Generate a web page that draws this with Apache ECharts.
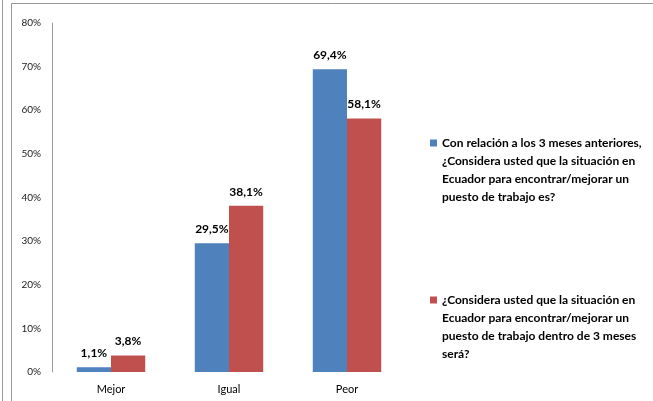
<!DOCTYPE html>
<html><head><meta charset="utf-8">
<script src="https://cdn.jsdelivr.net/npm/echarts@6/dist/echarts.min.js"></script>
<style>html,body{margin:0;padding:0;background:#fff}#c{width:653px;height:401px}</style>
</head><body><div id="c"></div>
<script>
const categories = ['Mejor', 'Igual', 'Peor'];
const seriesNames = [
  'Con relación a los 3 meses anteriores, ¿Considera usted que la situación en Ecuador para encontrar/mejorar un puesto de trabajo es?',
  '¿Considera usted que la situación en Ecuador para encontrar/mejorar un puesto de trabajo dentro de 3 meses será?'
];
const legendLines = [
  ['Con relación a los 3 meses anteriores,', '¿Considera usted que la situación en', 'Ecuador para encontrar/mejorar un', 'puesto de trabajo es?'],
  ['¿Considera usted que la situación en', 'Ecuador para encontrar/mejorar un', 'puesto de trabajo dentro de 3 meses', 'será?']
];
const valuesPrevious = [1.1, 29.5, 69.4];
const valuesNext = [3.8, 38.1, 58.1];
const yTicks = [0, 10, 20, 30, 40, 50, 60, 70, 80];

const colors = ['#4f81bd', '#c0504d'];
const font = 'Lato, "Open Sans", sans-serif';
const chart = echarts.init(document.getElementById('c'), null, {renderer: 'canvas'});
const fmtLabel = p => p.value.toFixed(1).replace('.', ',') + '%';
function legendFor(i, top) {
  const lines = legendLines[i];
  // pad with blank lines on top so the icon sits beside the first line
  const pad = new Array(lines.length - 1).fill(' ');
  return {
    show: true, orient: 'vertical', left: 430, top: top,
    itemWidth: 7, itemHeight: 7, icon: 'rect',
    data: [seriesNames[i]],
    formatter: () => pad.concat(lines).join('\n'),
    textStyle: {fontFamily: font, fontWeight: 'bold', fontSize: 12, color: '#000', lineHeight: 18},
    itemGap: 0, padding: 0, selectedMode: false
  };
}
chart.setOption({
  animation: false,
  color: colors,
  grid: {left: 52, top: 23, width: 354, height: 349, containLabel: false},
  legend: [legendFor(0, 80), legendFor(1, 237)],
  xAxis: {
    type: 'category', data: categories,
    axisLine: {show: false}, axisTick: {show: false},
    axisLabel: {fontFamily: font, fontSize: 11, color: '#000', margin: 12}
  },
  yAxis: {
    type: 'value', min: yTicks[0], max: yTicks[yTicks.length - 1], interval: 10,
    splitLine: {show: false},
    axisLine: {show: true, lineStyle: {color: '#999', width: 1}},
    axisTick: {show: false},
    axisLabel: {fontFamily: font, fontSize: 10, color: '#222', margin: 11, formatter: v => v + '%'}
  },
  series: [
    {name: seriesNames[0], type: 'bar', data: valuesPrevious, barGap: '0%', barCategoryGap: '42%',
     label: {show: true, position: 'top', distance: 8, formatter: fmtLabel, fontFamily: font, fontWeight: 'bold', fontSize: 12, color: '#000'}},
    {name: seriesNames[1], type: 'bar', data: valuesNext, barGap: '0%', barCategoryGap: '42%',
     label: {show: true, position: 'top', distance: 8, formatter: fmtLabel, fontFamily: font, fontWeight: 'bold', fontSize: 12, color: '#000'}}
  ],
  graphic: [
    {type: 'line', shape: {x1: 2.5, y1: 0, x2: 2.5, y2: 401}, style: {stroke: '#999', lineWidth: 1}},
    {type: 'line', shape: {x1: 11.5, y1: 3.5, x2: 11.5, y2: 401}, style: {stroke: '#999', lineWidth: 1}},
    {type: 'line', shape: {x1: 11.5, y1: 3.5, x2: 653, y2: 3.5}, style: {stroke: '#999', lineWidth: 1}}
  ]
});
</script></body></html>
